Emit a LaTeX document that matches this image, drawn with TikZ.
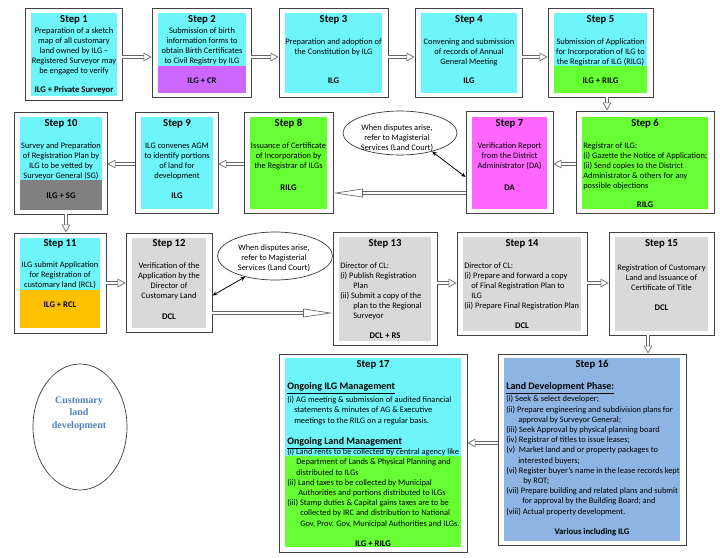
\documentclass[tikz,border=0pt]{standalone}
\usepackage{fontspec}
\setmainfont{Carlito}
\newfontfamily\serifbold{Liberation Serif}
\usetikzlibrary{positioning,arrows.meta,shapes.geometric,fit,calc}

\definecolor{stepcyan}{RGB}{110,245,250}
\definecolor{steppurple}{RGB}{204,102,255}
\definecolor{steplime}{RGB}{102,255,51}
\definecolor{stepmagenta}{RGB}{255,102,255}
\definecolor{stepgray}{RGB}{128,128,128}
\definecolor{steporange}{RGB}{255,192,0}
\definecolor{steplight}{RGB}{217,217,217}
\definecolor{stepblue}{RGB}{141,180,226}
\definecolor{textblue}{RGB}{79,129,189}

\tikzset{
  frame/.style={draw=black!75, fill=white, line width=0.7pt, inner sep=0pt},
  title/.style={font=\bfseries\fontsize{8}{9.6}\selectfont, inner sep=0pt},
  body/.style={font=\fontsize{6.3}{7.5}\selectfont, align=center, inner sep=0pt},
  lbody/.style={body, align=left, anchor=west},
  longbody/.style={lbody, font=\fontsize{6.3}{7.65}\selectfont},
  foot/.style={font=\bfseries\fontsize{6.5}{8}\selectfont, inner sep=0pt},
  heading/.style={font=\bfseries\fontsize{7.5}{9}\selectfont, inner sep=0pt, anchor=west},
  bubble/.style={draw=black!80, ellipse, line width=0.5pt, inner sep=0pt},
  bigarrow/.style={draw=black!60, line width=0.5pt, double=white, double distance=2pt,
    -{Triangle[open, length=6pt, width=6.5pt, fill=white]}},
  longarrow/.style={bigarrow, -{Triangle[open, length=22pt, width=6.5pt, fill=white]}},
  duplex/.style={black, line width=0.6pt, {Stealth[length=3.5pt,width=3pt]}-{Stealth[length=3.5pt,width=3pt]}}
}

\begin{document}
\begin{tikzpicture}[x=0.75pt,y=-0.75pt]
\useasboundingbox (0,0) rectangle (720,557);

% frames of the steps
\node[frame, fit={(25,8) (122,100)}] (s1) {};
\node[frame, fit={(152,8) (251,97)}] (s2) {};
\node[frame, fit={(279,8) (388,97)}] (s3) {};
\node[frame, fit={(415,8) (522,97)}] (s4) {};
\node[frame, fit={(548,8) (653,97)}] (s5) {};
\node[frame, fit={(576,111) (714,213)}] (s6) {};
\node[frame, fit={(466,111) (553,213)}] (s7) {};
\node[frame, fit={(244,112) (333,213)}] (s8) {};
\node[frame, fit={(135,112) (218,213)}] (s9) {};
\node[frame, fit={(14,112) (107,214)}] (s10) {};
\node[frame, fit={(14,233) (106,333)}] (s11) {};
\node[frame, fit={(126,233) (212,332)}] (s12) {};
\node[frame, fit={(333,232) (437,345)}] (s13) {};
\node[frame, fit={(457,232) (587,335)}] (s14) {};
\node[frame, fit={(609,232) (714,335)}] (s15) {};
\node[frame, fit={(498,354) (686,545)}] (s16) {};
\node[frame, fit={(279,354) (467,552)}] (s17) {};

% coloured cells
\fill[stepcyan] (31,13) rectangle (117,96);
\fill[stepcyan] (158,13) rectangle (246,66);
\fill[steppurple] (158,66) rectangle (246,93);
\fill[stepcyan] (285,13) rectangle (382,93);
\fill[stepcyan] (421,13) rectangle (517,93);
\fill[stepcyan] (554,13) rectangle (647,66);
\fill[steplime] (554,66) rectangle (647,93);
\fill[steplime] (582,117) rectangle (708,209);
\fill[stepmagenta] (472,117) rectangle (547,209);
\fill[steplime] (250,117) rectangle (327,209);
\fill[stepcyan] (141,117) rectangle (213,209);
\fill[stepcyan] (20,117) rectangle (102,180);
\fill[stepgray] (20,180) rectangle (102,210);
\fill[stepcyan] (20,238) rectangle (100,290);
\fill[steporange] (20,290) rectangle (100,328);
\fill[steplight] (132,238) rectangle (206,328);
\fill[steplight] (339,237) rectangle (431,341);
\fill[steplight] (463,237) rectangle (581,331);
\fill[steplight] (615,237) rectangle (708,331);
\fill[stepblue] (504,358) rectangle (680,541);
\fill[stepcyan] (285,358) rectangle (461,456);
\fill[steplime] (285,456) rectangle (461,547);

% step 1 - 5
\node[title] (t1) at (74,20) {Step 1};
\node[body] (b1) at (74,51) {Preparation of a sketch\\map of all customary\\land owned by ILG --\\Registered Surveyor may\\be engaged to verify};
\node[foot] (f1) at (74,90) {ILG + Private Surveyor};
\node[title] (t2) at (202,20) {Step 2};
\node[body] (b2) at (202,46.5) {Submission of birth\\information forms to\\obtain Birth Certificates\\to Civil Registry by ILG};
\node[foot] (f2) at (202,81) {ILG + CR};
\node[title] (t3) at (333.5,20) {Step 3};
\node[body] (b3) at (333.5,47) {Preparation and adoption of\\the Constitution by ILG};
\node[foot] (f3) at (333.5,81) {ILG};
\node[title] (t4) at (469,20) {Step 4};
\node[body] (b4) at (469,52) {Convening and submission\\of records of Annual\\General Meeting};
\node[foot] (f4) at (469,81) {ILG};
\node[title] (t5) at (600.5,20) {Step 5};
\node[body] (b5) at (600.5,52) {Submission of Application\\for Incorporation of ILG to\\the Registrar of ILG (RILG)};
\node[foot] (f5) at (600.5,81) {ILG + RILG};

% step 6 - 10
\node[title] (t6) at (645,124) {Step 6};
\node[lbody] (b6) at (583,166) {Registrar of ILG:\\(i) Gazette the Notice of Application;\\(ii) Send copies to the District\\Administrator \& others for any\\possible objections};
\node[foot] (f6) at (645,205) {RILG};
\node[title] (t7) at (509.5,124) {Step 7};
\node[body] (b7) at (509.5,156) {Verification Report\\from the District\\Administrator (DA)};
\node[foot] (f7) at (509.5,188) {DA};
\node[title] (t8) at (288.5,124) {Step 8};
\node[body] (b8) at (288.5,156) {Issuance of Certificate\\of Incorporation by\\the Registrar of ILGs};
\node[foot] (f8) at (288.5,188) {RILG};
\node[title] (t9) at (177,124) {Step 9};
\node[body] (b9) at (177,161) {ILG convenes AGM\\to identify portions\\of land for\\development};
\node[foot] (f9) at (177,196) {ILG};
\node[title] (t10) at (61,124) {Step 10};
\node[body] (b10) at (61,161) {Survey and Preparation\\of Registration Plan by\\ILG to be vetted by\\Surveyor General (SG)};
\node[foot] (f10) at (61,196) {ILG + SG};

% step 11 - 15
\node[title] (t11) at (60,244) {Step 11};
\node[body] (b11) at (60,275) {ILG submit Application\\for Registration of\\customary land (RCL)};
\node[foot] (f11) at (60,305) {ILG + RCL};
\node[title] (t12) at (169,244) {Step 12};
\node[body] (b12) at (169,281) {Verification of the\\Application by the\\Director of\\Customary Land};
\node[foot] (f12) at (169,317) {DCL};
\node[title] (t13) at (385,244) {Step 13};
\node[lbody] (b13) at (340,291) {Director of CL:\\(i) Publish Registration\\\hspace*{9.75pt}Plan\\(ii) Submit a copy of the\\\hspace*{9.75pt}plan to the Regional\\\hspace*{9.75pt}Surveyor};
\node[foot] (f13) at (385,336) {DCL + RS};
\node[title] (t14) at (522,244) {Step 14};
\node[lbody] (b14) at (464,286) {Director of CL:\\(i) Prepare and forward a copy\\\hspace*{5.25pt}of Final Registration Plan to\\\hspace*{5.25pt}ILG\\(ii) Prepare Final Registration Plan};
\node[foot] (f14) at (522,326) {DCL};
\node[title] (t15) at (661.5,244) {Step 15};
\node[body] (b15) at (661.5,278) {Registration of Customary\\Land and Issuance of\\Certificate of Title};
\node[foot] (f15) at (661.5,308) {DCL};

% step 16 and 17
\node[title] (t16) at (592,365) {Step 16};
\node[heading] (h16) at (506,388) {\underline{Land Development Phase:}};
\node[longbody] (b16) at (506,455.5) {(i) Seek \& select developer;\\(ii) Prepare engineering and subdivision plans for\\\hspace*{9pt}approval by Surveyor General;\\(iii) Seek Approval by physical planning board\\(iv) Registrar of titles to issue leases;\\(v)\ \ Market land and or property packages to\\\hspace*{9pt}interested buyers;\\(vi) Register buyer's name in the lease records kept\\\hspace*{12.75pt}by ROT;\\(vii) Prepare building and related plans and submit\\\hspace*{12pt}for approval by the Building Board; and\\(viii) Actual property development.};
\node[foot] (f16) at (592,532) {Various including ILG};
\node[title] (t17) at (373,365) {Step 17};
\node[heading] (h17a) at (287,388) {\underline{Ongoing ILG Management}};
\node[longbody] (b17a) at (287,410.5) {(i) AG meeting \& submission of audited financial\\\hspace*{5.25pt}statements \& minutes of AG \& Executive\\\hspace*{5.25pt}meetings to the RILG on a regular basis.};
\node[heading] (h17b) at (287,443) {\underline{Ongoing Land Management}};
\node[longbody] (b17b) at (287,488) {(i) Land rents to be collected by central agency like\\\hspace*{6.75pt}Department of Lands \& Physical Planning and\\\hspace*{6.75pt}distributed to ILGs\\(ii) Land taxes to be collected by Municipal\\\hspace*{8.25pt}Authorities and portions distributed to ILGs\\(iii) Stamp duties \& Capital gains taxes are to be\\\hspace*{9.75pt}collected by IRC and distribution to National\\\hspace*{9.75pt}Gov, Prov. Gov, Municipal Authorities and ILGs.};
\node[foot] (f17) at (373,544) {ILG + RILG};

% dispute bubbles and the side note
\node[bubble, minimum width=85.5pt, minimum height=33pt] (e1) at (400,133) {};
\node[body] (d1) at (397,138) {When disputes arise,\\refer to Magisterial\\Services (Land Court)};
\node[bubble, minimum width=86.25pt, minimum height=36pt] (e2) at (275,256) {};
\node[body] (d2) at (274,258.5) {When disputes arise,\\refer to Magisterial\\Services (Land Court)};
\node[bubble, minimum width=70.5pt, minimum height=94.5pt] (e3) at (80,427) {};
\node[font=\serifbold\bfseries\fontsize{7.5}{9.4}\selectfont, text=textblue, align=center, inner sep=0pt] (n3) at (79,413.5) {Customary\\land\\development};

% connectors
\coordinate (row1) at (0,57);
\coordinate (row2) at (0,164);
\coordinate (row2b) at (0,193);
\coordinate (row3) at (0,283);
\coordinate (row3b) at (0,313);
\coordinate (row4) at (0,443);
\coordinate (col5) at (607,0);
\coordinate (col10) at (66,0);
\coordinate (col15) at (648,0);
\foreach \a/\b in {s1/s2,s2/s3,s3/s4,s4/s5}
  \draw[bigarrow] (\a.east |- row1) -- (\b.west |- row1);
\foreach \a/\b in {s6/s7,s8/s9,s9/s10}
  \draw[bigarrow] (\a.west |- row2) -- (\b.east |- row2);
\foreach \a/\b in {s11/s12,s13/s14,s14/s15}
  \draw[bigarrow] (\a.east |- row3) -- (\b.west |- row3);
\draw[longarrow] (s7.west |- row2b) -- (s8.east |- row2b);
\draw[longarrow] (s12.east |- row3b) -- (s13.west |- row3b);
\draw[bigarrow] (s16.west |- row4) -- (s17.east |- row4);
\draw[bigarrow] (s5.south -| col5) -- (s6.north -| col5);
\draw[bigarrow] (s10.south -| col10) -- (s11.north -| col10);
\draw[bigarrow] (s15.south -| col15) -- (s16.north -| col15);
\draw[duplex] (e1.-30) -- ($(s7.west)+(0,15)$);
\draw[duplex] (e2.-145) -- ($(s12.east)+(0,13)$);
\end{tikzpicture}
\end{document}
